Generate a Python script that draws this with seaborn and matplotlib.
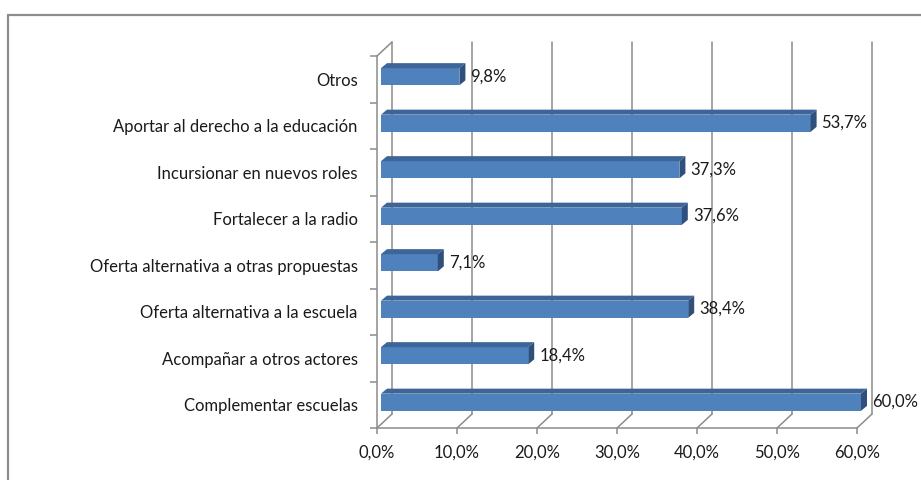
"""
Horizontal 3D-style bar chart (Excel look) with seaborn.
"""

import numpy as np
import pandas as pd
import matplotlib

matplotlib.use("Agg")
import matplotlib.pyplot as plt
from matplotlib.patches import Polygon
from matplotlib.lines import Line2D
from matplotlib.transforms import ScaledTranslation
import seaborn as sns

categories = [
    "Otros",
    "Aportar al derecho a la educación",
    "Incursionar en nuevos roles",
    "Fortalecer a la radio",
    "Oferta alternativa a otras propuestas",
    "Oferta alternativa a la escuela",
    "Acompañar a otros actores",
    "Complementar escuelas",
]
values = [9.8, 53.7, 37.3, 37.6, 7.1, 38.4, 18.4, 60.0]
x_ticks = [0, 10, 20, 30, 40, 50, 60]

FRONT = "#4F81BD"
TOP = "#3D6598"
SIDE = "#2F4F7C"
GRID = "#8C8C8C"

DPI = 100
PX_X = 480 / 60      # pixels per x unit
PX_Y = 46.5          # pixels per category
FS = 12

sns.set_theme(style="white")
plt.rcParams["font.family"] = ["Lato", "DejaVu Sans"]

df = pd.DataFrame({"cat": categories, "val": values})

fig = plt.figure(figsize=(921 / DPI, 480 / DPI), dpi=DPI)
ax = fig.add_axes([377 / 921, 1 - 428 / 480, 480 / 921, 372 / 480])
ax.patch.set_alpha(0)

sns.barplot(data=df, x="val", y="cat", orient="h", color=FRONT,
            saturation=1, width=0.37, ax=ax, zorder=3)
ax.set_xlim(0, 60)
ax.set_ylim(len(categories) - 0.5, -0.5)

# back wall + floor gridlines
dx, dy = 15 / PX_X, 14 / PX_Y
ybot, ytop = len(categories) - 0.5, -0.5
for xv in x_ticks:
    ax.add_line(Line2D([xv + dx, xv + dx], [ybot - dy, ytop - dy], color=GRID,
                       lw=1.1, clip_on=False, zorder=1))
    ax.add_line(Line2D([xv, xv + dx], [ybot, ybot - dy], color=GRID,
                       lw=1.1, clip_on=False, zorder=1))
ax.add_line(Line2D([0, dx], [ytop, ytop - dy], color=GRID, lw=1.1,
                   clip_on=False, zorder=1))

# 3D faces for each bar
shift = ax.transData + ScaledTranslation(4 / DPI, 2.5 / DPI, fig.dpi_scale_trans)
bdx, bdy = 6 / PX_X, 5 / PX_Y
for bar, v in zip(ax.patches, values):
    bar.set_transform(shift)
    bar.set_edgecolor("none")
    bar.set_clip_on(False)
    x0, y0 = bar.get_x(), bar.get_y()
    w, h = bar.get_width(), bar.get_height()
    top = Polygon([(x0, y0), (x0 + w, y0), (x0 + w + bdx, y0 - bdy), (x0 + bdx, y0 - bdy)],
                  closed=True, facecolor=TOP, edgecolor="none", transform=shift,
                  zorder=3, clip_on=False)
    side = Polygon([(x0 + w, y0), (x0 + w, y0 + h), (x0 + w + bdx, y0 + h - bdy),
                    (x0 + w + bdx, y0 - bdy)],
                   closed=True, facecolor=SIDE, edgecolor="none", transform=shift,
                   zorder=3, clip_on=False)
    ax.add_patch(top)
    ax.add_patch(side)
    ax.annotate(f"{v:.1f}%".replace(".", ","), xy=(x0 + w, y0 + h / 2),
                xytext=(15, 3), textcoords="offset pixels", ha="left", va="center",
                fontsize=FS, color="#1a1a1a", annotation_clip=False, zorder=4)

# axes styling
for s in ["top", "right"]:
    ax.spines[s].set_visible(False)
for s in ["left", "bottom"]:
    ax.spines[s].set_color(GRID)
    ax.spines[s].set_linewidth(1.1)

ax.set_xticks(x_ticks)
ax.set_xticklabels([f"{t:.1f}%".replace(".", ",") for t in x_ticks], fontsize=FS,
                   color="#1a1a1a")
ax.set_yticks(range(len(categories)))
ax.set_yticklabels(categories, fontsize=FS, color="#1a1a1a")
ax.set_yticks(np.arange(len(categories) + 1) - 0.5, minor=True)
ax.tick_params(axis="y", which="major", length=0, pad=14)
ax.tick_params(axis="y", which="minor", length=5, width=1.1, color=GRID, direction="out", left=True)
ax.tick_params(axis="x", which="major", length=4, width=1.1, color=GRID, direction="out",
               bottom=True, pad=8)
ax.set_xlabel("")
ax.set_ylabel("")
ax.grid(False)

# outer chart frame
fig.add_artist(Line2D([8 / 921, 8 / 921], [0, 1 - 15 / 480], color="#8C8C8C", lw=1.6,
                      transform=fig.transFigure))
fig.add_artist(Line2D([8 / 921, 1], [1 - 15 / 480, 1 - 15 / 480], color="#8C8C8C", lw=1.6,
                      transform=fig.transFigure))

fig.savefig("out.png", dpi=DPI)
